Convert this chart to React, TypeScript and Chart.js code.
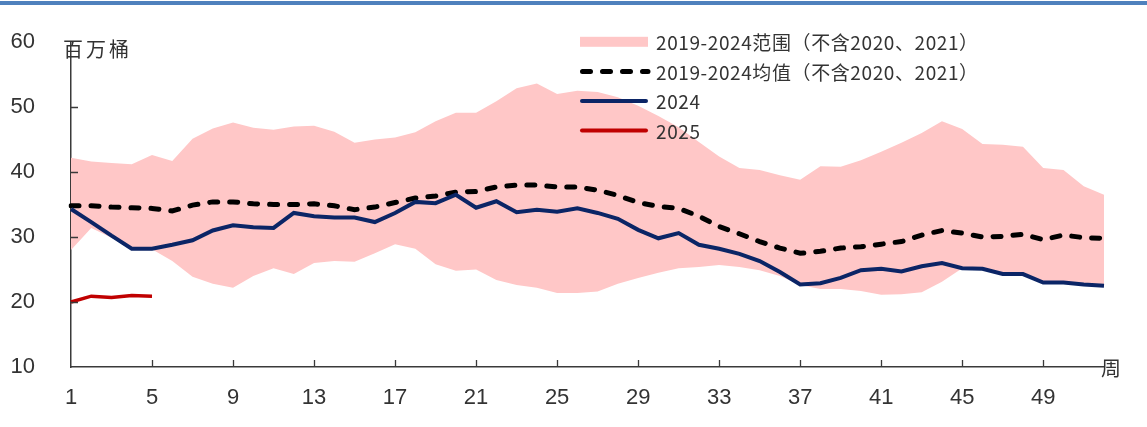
import React, { useEffect, useRef } from "react";
import { Chart, registerables } from "chart.js";

Chart.register(...registerables);

// ---------- data ----------
const WEEKS = [
  1, 2, 3, 4, 5, 6, 7, 8, 9, 10, 11, 12, 13, 14, 15, 16, 17, 18, 19, 20, 21, 22, 23, 24, 25, 26,
  27, 28, 29, 30, 31, 32, 33, 34, 35, 36, 37, 38, 39, 40, 41, 42, 43, 44, 45, 46, 47, 48, 49, 50, 51, 52,
];
const TICK_WEEKS = [1, 5, 9, 13, 17, 21, 25, 29, 33, 37, 41, 45, 49];
const Y_TICKS = [10, 20, 30, 40, 50, 60];

const RANGE_UPPER = [
  42.2, 41.6, 41.4, 41.2, 42.6, 41.7, 45.1, 46.7, 47.6, 46.8,
  46.5, 47.0, 47.1, 46.2, 44.5, 45.0, 45.3, 46.1, 47.8, 49.1,
  49.1, 50.9, 52.9, 53.6, 52.0, 52.5, 52.3, 51.5, 50.2, 48.6,
  46.9, 44.6, 42.4, 40.6, 40.3, 39.5, 38.8, 40.9, 40.8, 41.8,
  43.1, 44.5, 46.0, 47.8, 46.6, 44.3, 44.2, 43.9, 40.6, 40.3,
  37.8, 36.5,
];
const RANGE_LOWER = [
  28.0, 31.4, 29.9, 28.1, 28.1, 26.3, 23.9, 22.8, 22.2, 24.0,
  25.2, 24.3, 26.0, 26.3, 26.2, 27.5, 28.9, 28.2, 25.8, 24.8,
  25.0, 23.4, 22.6, 22.2, 21.4, 21.4, 21.6, 22.8, 23.7, 24.5,
  25.2, 25.4, 25.7, 25.4, 24.9, 24.0, 22.6, 22.0, 22.0, 21.7,
  21.1, 21.2, 21.5, 23.1, 25.2, 25.0, 24.2, 24.2, 22.9, 22.9,
  22.6, 22.4,
];
const AVERAGE = [
  34.8, 34.8, 34.6, 34.5, 34.4, 34.0, 34.9, 35.4, 35.4, 35.1,
  35.0, 35.0, 35.1, 34.8, 34.2, 34.6, 35.3, 36.0, 36.3, 36.9,
  37.0, 37.7, 38.0, 38.0, 37.7, 37.7, 37.2, 36.4, 35.3, 34.7,
  34.4, 33.2, 31.6, 30.5, 29.3, 28.3, 27.5, 27.8, 28.3, 28.5,
  28.9, 29.3, 30.3, 31.0, 30.6, 30.0, 30.1, 30.4, 29.6, 30.3,
  29.9, 29.8,
];
const Y2024 = [
  34.3, 32.3, 30.2, 28.2, 28.2, 28.8, 29.5, 31.0, 31.8, 31.5,
  31.4, 33.7, 33.2, 33.0, 33.0, 32.3, 33.7, 35.4, 35.2, 36.5,
  34.5, 35.5, 33.8, 34.2, 33.9, 34.4, 33.7, 32.8, 31.1, 29.8,
  30.6, 28.8, 28.2, 27.4, 26.3, 24.6, 22.7, 22.9, 23.7, 24.9,
  25.1, 24.7, 25.5, 26.0, 25.2, 25.1, 24.3, 24.3, 23.0, 23.0,
  22.7, 22.5,
];
const Y2025 = [20.0, 20.9, 20.7, 21.0, 20.9];

const LEGEND_LABELS = [
  "2019-2024范围（不含2020、2021）",
  "2019-2024均值（不含2020、2021）",
  "2024",
  "2025",
];
const Y_UNIT = "百万桶";
const X_UNIT = "周";

// ---------- styles ----------
const BAND_COLOR = "rgb(255,199,199)";
const AVG_COLOR = "#000000";
const C2024 = "#0b2566";
const C2025 = "#c00000";
const AXIS_COLOR = "#3a3a3a";
const TEXT_COLOR = "#333333";
const TICK_FONT = { family: "'Liberation Sans', Arial, sans-serif", size: 22 };
const CJK_FONT = "'Noto Sans CJK SC', sans-serif";

const W = 1147;
const H = 427;

const decorPlugin = {
  id: "decor",
  afterDraw(chart: any) {
    const { ctx, chartArea, scales } = chart;
    const xs = scales.x;
    const ys = scales.y;
    ctx.save();
    // inward tick marks
    ctx.strokeStyle = AXIS_COLOR;
    ctx.lineWidth = 1.3;
    ctx.beginPath();
    TICK_WEEKS.forEach((w) => {
      if (w === WEEKS[0]) return;
      const px = Math.round(xs.getPixelForValue(WEEKS.indexOf(w))) + 0.5;
      ctx.moveTo(px, chartArea.bottom);
      ctx.lineTo(px, chartArea.bottom - 7);
    });
    Y_TICKS.forEach((v) => {
      if (v === Y_TICKS[0] || v === Y_TICKS[Y_TICKS.length - 1]) return;
      const py = Math.round(ys.getPixelForValue(v)) + 0.5;
      ctx.moveTo(chartArea.left, py);
      ctx.lineTo(chartArea.left + 7, py);
    });
    ctx.stroke();

    // unit labels
    ctx.fillStyle = TEXT_COLOR;
    ctx.textBaseline = "middle";
    ctx.textAlign = "left";
    ctx.font = `20px ${CJK_FONT}`;
    (ctx as any).letterSpacing = "3px";
    ctx.fillText(Y_UNIT, chartArea.left - 8, chartArea.top + 7);
    (ctx as any).letterSpacing = "0px";
    ctx.fillText(X_UNIT, chartArea.right - 3, chartArea.bottom + 1);

    // legend
    const lx = 580;
    const ly0 = 41.8;
    const step = 29.6;
    const ds = chart.data.datasets;
    ctx.fillStyle = ds[0].backgroundColor;
    ctx.fillRect(lx, ly0 - 5, 68, 10);
    ctx.lineCap = "round";
    ctx.strokeStyle = ds[2].borderColor;
    ctx.lineWidth = 5;
    ctx.setLineDash([8, 12]);
    ctx.beginPath();
    ctx.moveTo(lx + 2.5, ly0 + step);
    ctx.lineTo(lx + 68, ly0 + step);
    ctx.stroke();
    ctx.setLineDash([]);
    [3, 4].forEach((di, k) => {
      ctx.strokeStyle = ds[di].borderColor;
      ctx.lineWidth = 4;
      ctx.beginPath();
      const yy = ly0 + step * (2 + k);
      ctx.moveTo(lx + 2, yy);
      ctx.lineTo(lx + 66, yy);
      ctx.stroke();
    });
    ctx.fillStyle = TEXT_COLOR;
    ctx.font = `19px ${CJK_FONT}`;
    (ctx as any).letterSpacing = "0.6px";
    LEGEND_LABELS.forEach((t, i) => {
      ctx.fillText(t, lx + 76, ly0 + step * i + 1);
    });
    (ctx as any).letterSpacing = "0px";
    ctx.restore();
  },
};

export default function App() {
  const ref = useRef<HTMLCanvasElement | null>(null);

  useEffect(() => {
    if (!ref.current) return;
    const chart = new Chart(ref.current, {
      type: "line",
      data: {
        labels: WEEKS.map(String),
        datasets: [
          {
            label: LEGEND_LABELS[0],
            data: RANGE_UPPER,
            borderWidth: 0,
            borderColor: "rgba(0,0,0,0)",
            backgroundColor: BAND_COLOR,
            fill: "+1",
            pointRadius: 0,
            order: 5,
          },
          {
            label: "lower",
            data: RANGE_LOWER,
            borderWidth: 0,
            borderColor: "rgba(0,0,0,0)",
            backgroundColor: BAND_COLOR,
            fill: false,
            pointRadius: 0,
            order: 5,
          },
          {
            label: LEGEND_LABELS[1],
            data: AVERAGE,
            borderColor: AVG_COLOR,
            borderWidth: 5,
            borderDash: [8, 12],
            borderCapStyle: "round",
            fill: false,
            pointRadius: 0,
            order: 3,
          },
          {
            label: LEGEND_LABELS[2],
            data: Y2024,
            borderColor: C2024,
            borderWidth: 4,
            fill: false,
            pointRadius: 0,
            order: 2,
          },
          {
            label: LEGEND_LABELS[3],
            data: Y2025,
            borderColor: C2025,
            borderWidth: 3.5,
            fill: false,
            pointRadius: 0,
            order: 1,
          },
        ],
      },
      options: {
        responsive: false,
        animation: false,
        events: [],
        layout: { padding: { top: 42, right: 43, left: 0, bottom: 0 }, autoPadding: false },
        elements: { line: { tension: 0 } },
        plugins: {
          legend: { display: false },
          tooltip: { enabled: false },
          title: { display: false },
        },
        scales: {
          x: {
            type: "category",
            offset: false,
            grid: { display: false, drawTicks: false },
            border: { display: true, color: AXIS_COLOR, width: 1.5 },
            ticks: {
              autoSkip: false,
              maxRotation: 0,
              padding: 18,
              color: TEXT_COLOR,
              font: TICK_FONT,
              callback: (_v: any, idx: number) =>
                TICK_WEEKS.includes(WEEKS[idx]) ? String(WEEKS[idx]) : "",
            },
            afterFit: (s: any) => {
              s.height = 60;
              s.paddingLeft = 0;
              s.paddingRight = 0;
            },
          },
          y: {
            type: "linear",
            min: Y_TICKS[0],
            max: Y_TICKS[Y_TICKS.length - 1],
            grid: { display: false, drawTicks: false },
            border: { display: true, color: AXIS_COLOR, width: 1.5 },
            ticks: {
              stepSize: 10,
              padding: 36,
              color: TEXT_COLOR,
              font: TICK_FONT,
            },
            afterFit: (s: any) => {
              s.width = 71;
              s.paddingTop = 0;
              s.paddingBottom = 0;
            },
          },
        },
      },
      plugins: [decorPlugin],
    } as any);
    return () => chart.destroy();
  }, []);

  return (
    <div style={{ position: "fixed", left: 0, top: 0, width: W, height: H, background: "#fff" }}>
      <div
        style={{ position: "absolute", left: 0, top: 1, width: W, height: 4, background: "#4f81bd" }}
      />
      <canvas
        ref={ref}
        width={W}
        height={H}
        style={{ position: "absolute", left: 0, top: 0, width: W, height: H }}
      />
    </div>
  );
}
